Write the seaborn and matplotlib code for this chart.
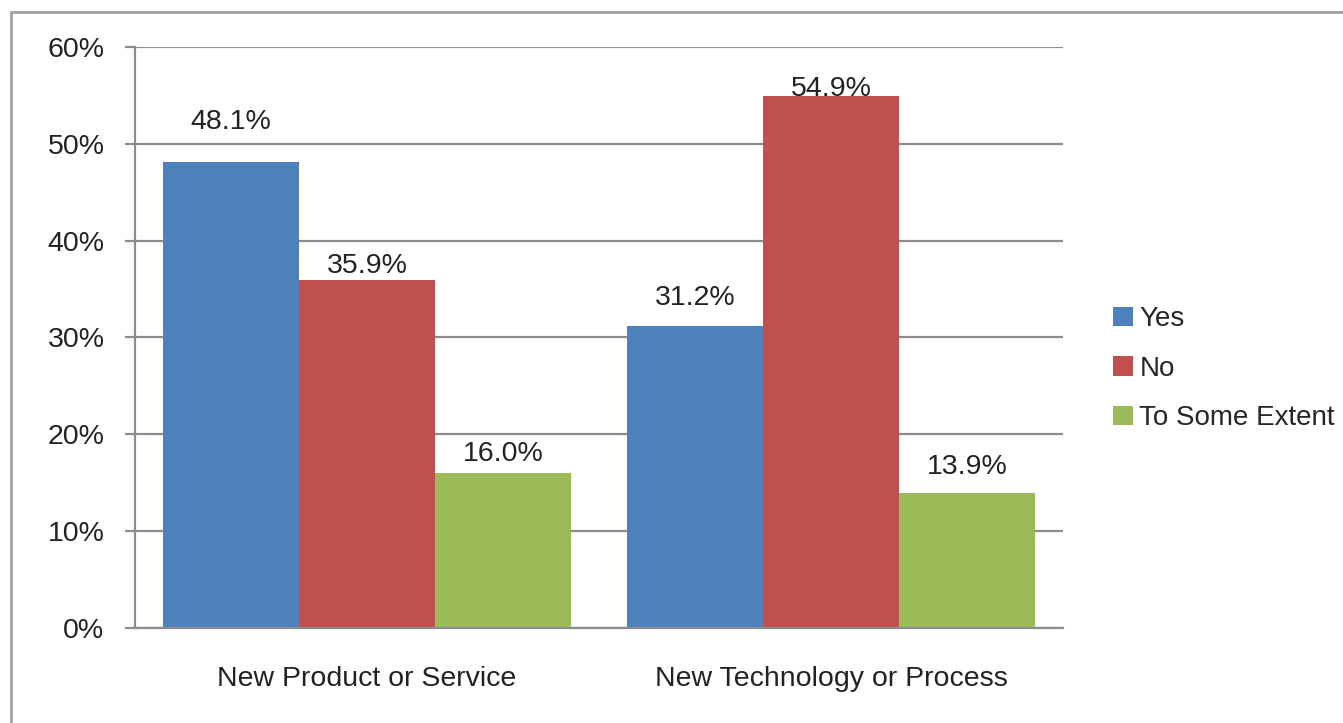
import matplotlib
matplotlib.use("Agg")
import matplotlib.pyplot as plt
import seaborn as sns
import pandas as pd
from matplotlib.patches import Rectangle

categories = ["New Product or Service", "New Technology or Process"]
series = ["Yes", "No", "To Some Extent"]
yes_vals = [48.1, 31.2]
no_vals = [35.9, 54.9]
extent_vals = [16.0, 13.9]
y_ticks = [0, 10, 20, 30, 40, 50, 60]

colors = ["#4F81BD", "#C0504D", "#9BBB59"]
# label offsets above bar top (pixels), per series/category, as in the reference
label_offsets = {"Yes": [40, 28], "No": [14, 7], "To Some Extent": [19, 26]}

df = pd.DataFrame({
    "cat": categories * 3,
    "series": [s for s in series for _ in categories],
    "val": yes_vals + no_vals + extent_vals,
})

sns.set_theme(style="white")
plt.rcParams["font.family"] = ["Liberation Sans", "DejaVu Sans"]

FS = 20.5
fig = plt.figure(figsize=(13.43, 7.23), dpi=100)
ax = fig.add_axes([0.1005, 0.1314, 0.691, 0.8036])

sns.barplot(data=df, x="cat", y="val", hue="series", hue_order=series,
            order=categories, palette=colors, width=0.88, saturation=1,
            edgecolor="none", linewidth=0, ax=ax, legend=True)

ax.set_ylim(0, 60)
ax.set_xlim(-0.5, 1.5)
ax.set_yticks(y_ticks)
ax.set_yticklabels([f"{t}%" for t in y_ticks], fontsize=FS, color="#222222")
ax.yaxis.grid(True, color="#8C8C8C", linewidth=1.6)
ax.set_axisbelow(True)
ax.set_xlabel("")
ax.set_ylabel("")
ax.tick_params(axis="x", length=0, pad=27.5, labelsize=FS, labelcolor="#222222")
ax.set_xticks([-0.5, 0.5, 1.5], minor=True)
ax.tick_params(axis="x", which="minor", length=7, width=1.6, color="#8C8C8C", direction="out")
ax.tick_params(axis="y", length=7, width=1.6, color="#8C8C8C", direction="out", pad=15, left=True)
for s in ["top", "right"]:
    ax.spines[s].set_visible(False)
for s in ["left", "bottom"]:
    ax.spines[s].set_color("#8C8C8C")
    ax.spines[s].set_linewidth(1.6)

for cont, s in zip(ax.containers, series):
    for bar, off in zip(cont, label_offsets[s]):
        h = bar.get_height()
        ax.annotate(f"{h:.1f}%", (bar.get_x() + bar.get_width() / 2, h),
                    xytext=(0, off), textcoords="offset pixels",
                    ha="center", va="center", fontsize=FS, color="#222222",
                    annotation_clip=False)

leg = ax.legend(loc="center left", bbox_to_anchor=(1.054, 0.446), frameon=False,
                fontsize=FS - 0.5, handlelength=0.7, handleheight=0.7,
                handletextpad=0.25, labelspacing=0.85, borderaxespad=0, borderpad=0)

fig.patches.append(Rectangle((11 / 1343, -0.01), 1.02, (723 - 12) / 723 + 0.01,
                             transform=fig.transFigure, fill=False,
                             edgecolor="#A0A0A0", linewidth=2))

fig.savefig("out.png", dpi=100)
